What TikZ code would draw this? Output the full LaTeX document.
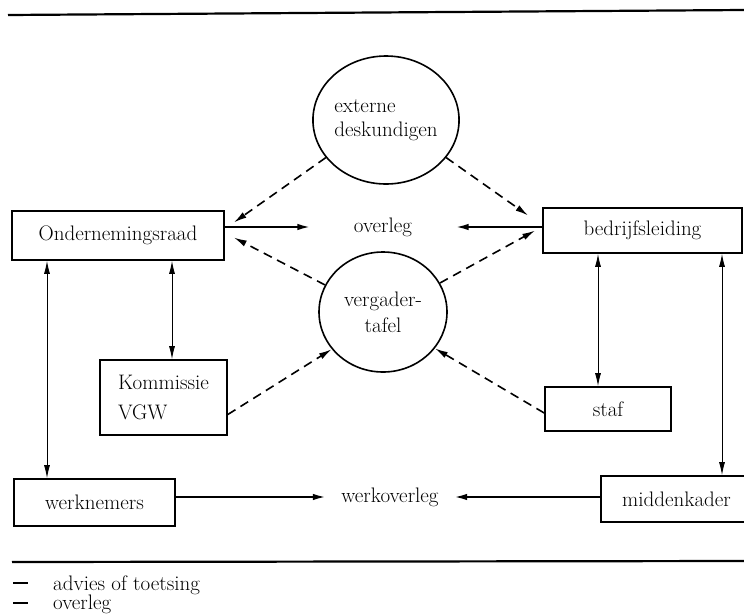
\documentclass[tikz,border=0pt]{standalone}
\usetikzlibrary{arrows.meta,shapes.geometric}
\begin{document}
\begin{tikzpicture}[x=1pt,y=-1pt,
  every node/.style={font=\fontsize{21}{24}\selectfont},
  box/.style={draw, line width=1.6pt, inner sep=0pt},
  ring/.style={draw, ellipse, line width=1.6pt, inner sep=0pt},
  tip/.style={-{Latex[length=13pt,width=6.5pt]}},
  dasharr/.style={tip, line width=1.6pt, dash pattern=on 9pt off 6pt},
  thinarr/.style={{Latex[length=13pt,width=6pt]}-{Latex[length=13pt,width=6pt]}, line width=0.9pt},
  thickarr/.style={tip, line width=2pt}]
\useasboundingbox (0,0) rectangle (744,614);
% rules
\draw[line width=2.2pt] (8,15) -- (744,10);
\draw[line width=2.2pt] (12,562) -- (744,561);
% circles
\node[ring, minimum width=142pt, minimum height=128pt, align=left] (ext) at (386,120) {externe\\deskundigen};
\node[ring, minimum width=128pt, minimum height=120pt, align=center, font=\fontsize{21}{26}\selectfont] (vtafel) at (383,312) {vergader-\\tafel};
% boxes
\node[box, minimum width=212pt, minimum height=49pt] (raad) at (118,235.5) {Ondernemingsraad};
\node[box, minimum width=199pt, minimum height=45pt] (leiding) at (642.5,230.5) {bedrijfsleiding};
\node[box, minimum width=127pt, minimum height=75pt, align=left, font=\fontsize{21}{30}\selectfont] (komm) at (163.5,397.5) {Kommissie\\VGW};
\node[box, minimum width=126pt, minimum height=44pt] (staf) at (608,409) {staf};
\node[box, minimum width=161pt, minimum height=47pt] (werkn) at (94.5,502.5) {werknemers};
\node[box, minimum width=151pt, minimum height=46pt] (midk) at (676.5,499) {middenkader};
% labels
\node (ovl) at (383,227) {overleg};
\node (wovl) at (390,497) {werkoverleg};
% solid arrows
\draw[thickarr] (raad.east |- ovl) -- ([xshift=-40pt]ovl.west);
\draw[thickarr] (leiding.west |- ovl) -- ([xshift=40pt]ovl.east);
\draw[thickarr] (werkn.east |- wovl) -- ([xshift=-12pt]wovl.west);
\draw[thickarr] (midk.west |- wovl) -- ([xshift=12pt]wovl.east);
% vertical arrows
\draw[thinarr] ([xshift=-71pt]raad.south) -- ([xshift=-47.5pt]werkn.north);
\draw[thinarr] ([xshift=54pt]raad.south) -- ([xshift=8.5pt]komm.north);
\draw[thinarr] ([xshift=-44.5pt]leiding.south) -- ([xshift=-10pt]staf.north);
\draw[thinarr] ([xshift=79.5pt]leiding.south) -- ([xshift=45.5pt]midk.north);
% dashed arrows
\draw[dasharr] (ext.212) -- ([xshift=9pt,yshift=13pt]raad.east);
\draw[dasharr] (ext.328) -- ([xshift=-14pt,yshift=15pt]leiding.west);
\draw[dasharr] (vtafel.155) -- ([xshift=9pt,yshift=-2pt]raad.east);
\draw[dasharr] (vtafel.27) -- ([xshift=-7pt]leiding.west);
\draw[dasharr] ([yshift=-17pt]komm.east) -- (vtafel.216);
\draw[dasharr] ([yshift=-4pt]staf.west) -- (vtafel.325);
% legend
\draw[line width=1.8pt] (13,583) -- (28,583);
\draw[line width=1.8pt] (13,603) -- (28,603);
\node[anchor=base west, inner sep=0pt] (leg1) at (53,590) {advies of toetsing};
\node[anchor=base west, inner sep=0pt] (leg2) at (53,609) {overleg};
\end{tikzpicture}
\end{document}
